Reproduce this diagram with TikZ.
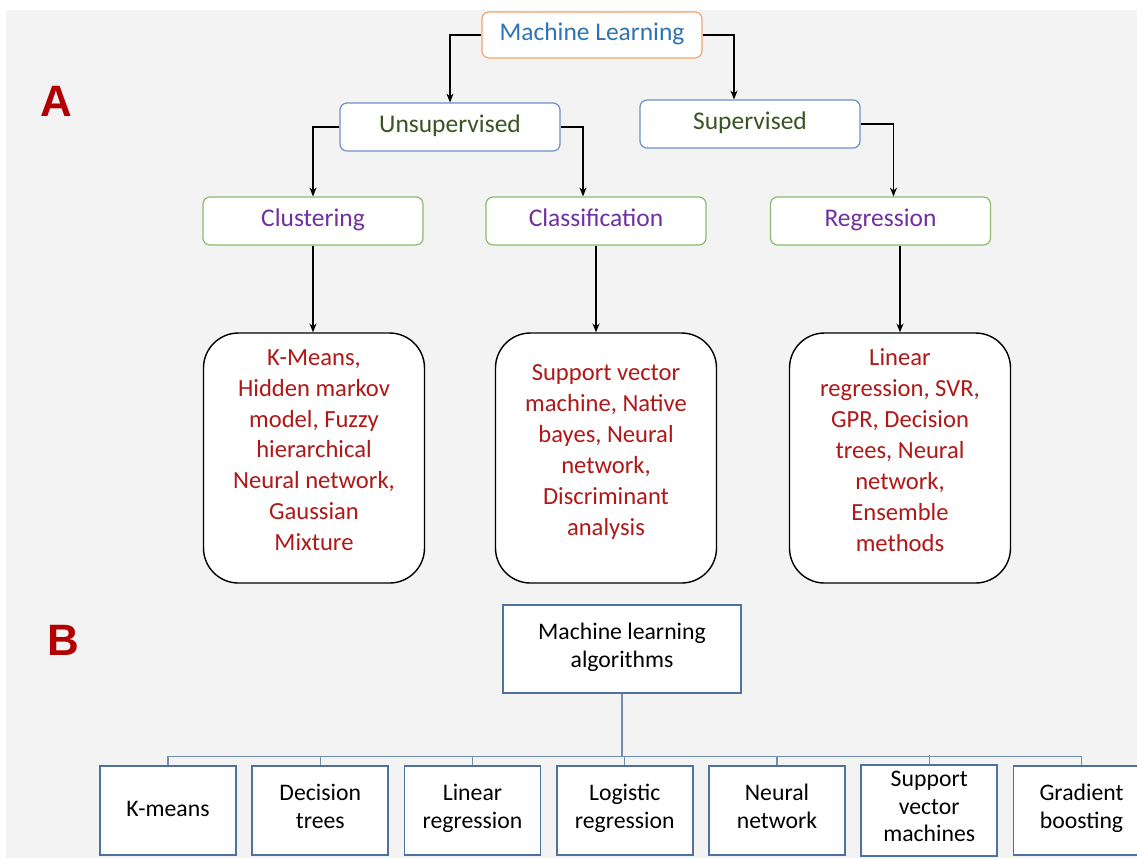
\documentclass[tikz,border=0pt]{standalone}
\usepackage{fontspec}
\setmainfont{Carlito}
\usetikzlibrary{arrows.meta}

\definecolor{bggray}{HTML}{F3F3F3}
\definecolor{mlblue}{HTML}{2E74B5}
\definecolor{mlorange}{HTML}{EFA66E}
\definecolor{supblue}{HTML}{6F8FC8}
\definecolor{supgreen}{HTML}{3B5323}
\definecolor{catgreen}{HTML}{8DBA6E}
\definecolor{catpurple}{HTML}{7030A0}
\definecolor{itemred}{HTML}{B01818}
\definecolor{labred}{HTML}{B00000}
\definecolor{algblue}{HTML}{4F719F}

\tikzset{
	topbox/.style={draw, fill=white, rounded corners=4pt, line width=0.7pt, minimum width=4.4cm, minimum height=0.96cm, font=\fontsize{14.5}{17}\selectfont, execute at begin node=\strut},
	itembox/.style={draw=black, fill=white, rounded corners=0.7cm, line width=0.8pt, minimum width=4.42cm, minimum height=5cm, align=center, text=itemred, font=\fontsize{14}{17.6}\selectfont},
	algbox/.style={draw=algblue, fill=white, line width=0.9pt, minimum width=2.72cm, minimum height=1.78cm, align=center, font=\fontsize{13.5}{15.9}\selectfont, execute at begin node=\strut, execute at end node=\strut},
	link/.style={line width=0.8pt, -{Stealth[length=5pt,width=4pt]}},
	busline/.style={draw=algblue!80, line width=0.8pt},
	panel/.style={font=\fontsize{25}{25}\fontspec{Liberation Sans}\bfseries, text=labred}
}

\begin{document}
\begin{tikzpicture}
	\useasboundingbox (0,0) rectangle (22.74,-17.16);
	\clip (0,0) rectangle (22.74,-17.16);
	\fill [bggray] (0.12,-0.2) rectangle (22.74,-17.16);

	\node [panel] (labA) at (1.12,-2.02) {A};
	\node [panel] (labB) at (1.26,-12.8) {B};

	% part A
	\node [topbox, draw=mlorange, text=mlblue, minimum height=0.92cm] (ml) at (11.84,-0.70) {Machine Learning};
	\node [topbox, draw=supblue, text=supgreen] (unsup) at (9.0,-2.54) {Unsupervised};
	\node [topbox, draw=supblue, text=supgreen] (sup) at (15.0,-2.48) {Supervised};
	\node [topbox, draw=catgreen, text=catpurple] (clus) at (6.26,-4.42) {Clustering};
	\node [topbox, draw=catgreen, text=catpurple] (clas) at (11.92,-4.42) {Classification};
	\node [topbox, draw=catgreen, text=catpurple] (regr) at (17.61,-4.42) {Regression};

	\node [itembox] (clusbox) at (6.28,-9.16) {K-Means,\\Hidden markov\\model, Fuzzy\\hierarchical\\Neural network,\\Gaussian\\Mixture\\[-0.3cm]};
	\node [itembox] (clasbox) at (12.12,-9.16) {Support vector\\machine, Native\\bayes, Neural\\network,\\Discriminant\\analysis\\[-0.3cm]};
	\node [itembox] (regrbox) at (18.0,-9.16) {Linear\\regression, SVR,\\GPR, Decision\\trees, Neural\\network,\\Ensemble\\methods\\[-0.3cm]};

	\draw [link] (ml.west) -| (unsup.north);
	\draw [link] (ml.east) -| ([xshift=-0.32cm]sup.north);
	\draw [link] (unsup.west) -| (clus.north);
	\draw [link] (unsup.east) -| ([xshift=-0.26cm]clas.north);
	\draw [link] (sup.east) -| ([xshift=0.26cm]regr.north);
	\draw [link] (clus.south) -- (clus.south |- clusbox.north);
	\draw [link] (clas.south) -- (clas.south |- clasbox.north);
	\draw [link] (regrbox.north |- regr.south) -- (regrbox.north);

	% part B
	\node [algbox, minimum width=4.76cm, minimum height=1.76cm] (mla) at (12.44,-12.98) {Machine learning\\algorithms};
	\foreach \name/\txt [count=\i from 0] in {km/K-means, dt/Decision\\trees, lr/Linear\\regression, lg/Logistic\\regression, nn/Neural\\network, sv/Support\\vector\\machines, gb/Gradient\\boosting}
		\node [algbox] (\name) at (3.36+3.045*\i,-16.21) {\txt};

	\draw [busline] (km.north) -- ++(0,0.18) -| (gb.north);
	\foreach \name in {dt,lr,lg,nn,sv}
		\draw [busline] (\name.north) -- ++(0,0.18);
	\draw [busline] (mla.south) -- ([yshift=0.18cm]mla.south |- lg.north);
\end{tikzpicture}
\end{document}
